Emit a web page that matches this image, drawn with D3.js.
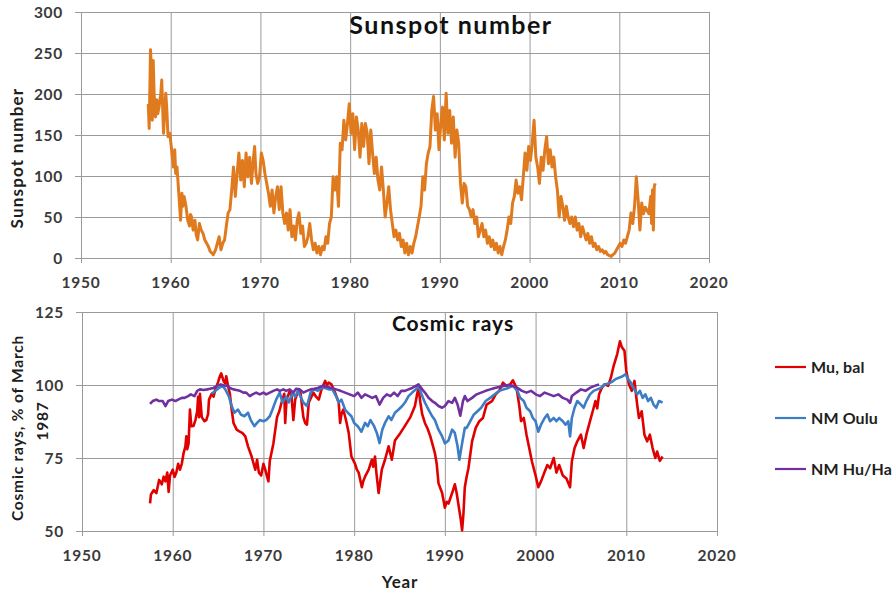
<!DOCTYPE html>
<html>
<head>
<meta charset="utf-8">
<script src="https://cdn.jsdelivr.net/npm/d3@7"></script>
<style>
  body { margin: 0; background: #fff; }
  text { font-family: Lato, "Open Sans", "DejaVu Sans", sans-serif; }
</style>
</head>
<body>
<svg id="chart" width="896" height="592"></svg>
<script>
// ---- data ------------------------------------------------------------
const xTicks = [1950, 1960, 1970, 1980, 1990, 2000, 2010, 2020];
const sunspotTicks = [0, 50, 100, 150, 200, 250, 300];
const cosmicTicks = [50, 75, 100, 125];

// Monthly sunspot number, [year, value]
const sunspot = [
  [1957.5,188],[1957.6,158],[1957.75,254],[1957.85,225],[1957.95,168],[1958.05,241],[1958.15,200],
  [1958.3,172],[1958.45,193],[1958.55,176],[1958.7,184],[1958.9,201],[1959.0,217],[1959.2,152],
  [1959.35,184],[1959.45,201],[1959.55,184],[1959.7,148],[1959.9,152],[1960.1,132],[1960.3,111],
  [1960.45,132],[1960.55,103],[1960.7,111],[1960.9,79],[1961.1,46],[1961.25,79],[1961.35,63],
  [1961.5,75],[1961.7,63],[1961.9,46],[1962.1,39],[1962.2,53],[1962.3,51],[1962.5,34],[1962.7,46],
  [1962.85,28],[1963.0,22],[1963.2,42],[1963.4,34],[1963.6,30],[1963.8,22],[1964.0,18],[1964.2,14],
  [1964.4,8],[1964.6,6],[1964.75,4],[1965.0,10],[1965.2,18],[1965.4,26],[1965.6,10],[1965.8,18],
  [1966.0,22],[1966.2,39],[1966.4,55],[1966.6,59],[1966.8,83],[1967.0,111],[1967.2,75],[1967.4,103],
  [1967.6,128],[1967.8,95],[1968.0,119],[1968.2,87],[1968.4,128],[1968.6,99],[1968.8,123],[1969.0,91],
  [1969.2,119],[1969.35,136],[1969.5,103],[1969.7,91],[1969.9,99],[1970.1,128],[1970.3,119],[1970.5,103],
  [1970.7,91],[1970.9,79],[1971.1,63],[1971.3,83],[1971.5,55],[1971.7,75],[1971.9,87],[1972.1,59],
  [1972.3,87],[1972.5,55],[1972.7,42],[1972.9,55],[1973.1,34],[1973.3,59],[1973.5,26],[1973.7,39],
  [1973.9,22],[1974.1,46],[1974.3,55],[1974.5,30],[1974.7,39],[1974.9,14],[1975.1,18],[1975.3,26],
  [1975.5,42],[1975.7,22],[1975.9,10],[1976.1,18],[1976.3,6],[1976.5,14],[1976.7,4],[1976.9,14],
  [1977.1,10],[1977.3,26],[1977.5,18],[1977.7,42],[1977.9,50],[1978.1,99],[1978.3,83],[1978.5,99],
  [1978.7,63],[1978.9,140],[1979.1,132],[1979.3,168],[1979.5,144],[1979.7,164],[1979.9,188],[1980.1,152],
  [1980.3,176],[1980.5,132],[1980.7,172],[1980.9,156],[1981.1,123],[1981.3,164],[1981.5,136],[1981.7,164],
  [1981.9,152],[1982.1,115],[1982.3,156],[1982.5,128],[1982.7,103],[1982.9,123],[1983.1,95],[1983.3,83],
  [1983.5,111],[1983.7,83],[1983.9,50],[1984.1,67],[1984.3,87],[1984.5,59],[1984.7,42],[1984.9,26],
  [1985.1,34],[1985.3,22],[1985.5,30],[1985.7,14],[1985.9,22],[1986.1,6],[1986.3,18],[1986.5,4],
  [1986.7,14],[1986.9,6],[1987.1,18],[1987.3,26],[1987.5,38],[1987.7,50],[1987.9,63],[1988.1,99],
  [1988.3,83],[1988.5,115],[1988.7,128],[1988.9,136],[1989.1,180],[1989.3,197],[1989.5,156],[1989.7,176],
  [1989.9,132],[1990.1,164],[1990.3,184],[1990.5,144],[1990.7,201],[1990.9,152],[1991.1,180],[1991.3,140],
  [1991.5,172],[1991.7,123],[1991.9,156],[1992.1,140],[1992.3,91],[1992.5,67],[1992.7,91],[1992.9,87],
  [1993.1,63],[1993.3,59],[1993.5,50],[1993.7,59],[1993.9,42],[1994.1,50],[1994.3,26],[1994.5,34],
  [1994.7,42],[1994.9,26],[1995.1,34],[1995.3,18],[1995.5,26],[1995.7,14],[1995.9,22],[1996.1,10],
  [1996.3,18],[1996.5,6],[1996.7,14],[1996.9,4],[1997.1,14],[1997.3,22],[1997.5,34],[1997.7,50],
  [1997.9,42],[1998.1,67],[1998.3,75],[1998.5,95],[1998.7,79],[1998.9,87],[1999.1,71],[1999.3,99],
  [1999.5,128],[1999.7,107],[1999.9,136],[2000.1,119],[2000.3,140],[2000.5,168],[2000.7,123],[2000.9,111],
  [2001.1,91],[2001.3,123],[2001.5,107],[2001.7,132],[2001.9,148],[2002.1,115],[2002.3,132],[2002.5,111],
  [2002.7,123],[2002.9,99],[2003.1,83],[2003.3,50],[2003.5,75],[2003.7,63],[2003.9,46],[2004.1,63],
  [2004.3,50],[2004.5,42],[2004.7,50],[2004.9,38],[2005.1,50],[2005.3,34],[2005.5,42],[2005.7,26],
  [2005.9,38],[2006.1,30],[2006.3,22],[2006.5,30],[2006.7,18],[2006.9,26],[2007.1,14],[2007.3,18],
  [2007.5,10],[2007.7,14],[2007.9,8],[2008.1,10],[2008.3,6],[2008.5,8],[2008.7,4],[2008.9,3],
  [2009.1,2],[2009.3,4],[2009.5,6],[2009.7,10],[2009.9,14],[2010.1,18],[2010.3,14],[2010.5,22],
  [2010.7,18],[2010.9,26],[2011.1,34],[2011.3,55],[2011.5,42],[2011.7,63],[2011.9,99],[2012.1,71],
  [2012.3,34],[2012.5,67],[2012.7,54],[2012.9,62],[2013.1,58],[2013.3,54],[2013.5,75],[2013.6,42],
  [2013.7,83],[2013.8,34],[2013.9,87],[2014.0,91]
];

// Cosmic ray intensity, % of March 1987, [year, value]
const muBal = [
  [1957.5,59.5],[1957.6,62.5],[1957.9,64],[1958.2,63],[1958.5,67.5],[1958.8,66],[1959.0,68.6],[1959.2,67],
  [1959.4,70],[1959.55,63.4],[1959.7,69],[1960.0,71],[1960.2,68.5],[1960.4,70],[1960.6,73],[1960.8,71],
  [1961.0,73],[1961.2,76.7],[1961.4,79],[1961.5,82.4],[1961.6,78],[1961.75,80],[1961.9,91.6],[1962.05,85.9],
  [1962.3,86],[1962.5,88],[1962.7,91],[1962.8,96],[1962.9,89],[1963.0,97],[1963.2,89],[1963.5,87.6],
  [1963.7,88],[1963.9,90],[1964.0,95],[1964.3,97],[1964.5,96],[1964.7,98.5],[1965.0,101],[1965.2,103],
  [1965.35,104],[1965.6,101.4],[1965.8,100.5],[1965.9,103],[1966.1,99.7],[1966.3,97],[1966.45,92.8],[1966.7,87],
  [1967.05,84.7],[1967.4,84],[1967.7,83.5],[1968.0,82.4],[1968.3,79],[1968.7,75.5],[1969.1,71],[1969.3,74.4],
  [1969.5,70],[1969.75,69],[1970.0,73],[1970.2,71],[1970.4,68.6],[1970.55,67],[1970.7,74],[1971.1,80],
  [1971.5,89],[1971.75,91],[1972.0,94],[1972.3,97],[1972.4,87],[1972.55,95],[1972.9,98],[1973.1,96],
  [1973.3,88],[1973.5,95],[1973.9,98.5],[1974.1,97],[1974.4,89],[1974.6,87],[1974.8,86.4],[1975.0,94],
  [1975.5,97.4],[1975.8,96],[1976.1,95],[1976.4,98.5],[1976.8,101.4],[1977.0,100],[1977.2,100.8],[1977.5,100.2],
  [1977.9,97.4],[1978.3,94],[1978.45,87],[1978.6,90],[1978.8,91.6],[1979.1,88],[1979.4,83.6],[1979.7,75.5],
  [1980.1,73],[1980.3,71],[1980.5,70],[1980.85,65],[1981.0,67],[1981.2,68.6],[1981.6,71],[1981.95,74.4],
  [1982.1,72],[1982.3,75.5],[1982.45,70],[1982.7,63],[1983.05,71],[1983.4,74.4],[1983.8,79],[1984.15,74.4],
  [1984.5,81],[1985.1,83.6],[1985.6,86],[1986.2,89],[1986.7,92.8],[1986.95,97],[1987.1,99],[1987.3,94],
  [1987.5,90],[1987.8,87],[1988.1,85],[1988.4,82.4],[1988.9,76.7],[1989.1,73],[1989.3,66.3],[1989.7,63],
  [1990.0,58],[1990.2,60],[1990.4,59.4],[1990.8,63],[1991.1,66],[1991.3,63],[1991.5,59],[1991.75,54],
  [1991.9,50.2],[1992.05,56],[1992.2,65],[1992.4,68.6],[1992.6,71.5],[1993.0,80.7],[1993.4,85.3],[1993.8,87.6],
  [1994.2,88.7],[1994.6,93.3],[1995.2,94.5],[1995.6,96.8],[1996.0,98],[1996.4,100.8],[1996.8,99.7],[1997.2,100.2],
  [1997.5,101.6],[1997.9,99],[1998.2,93],[1998.4,87.6],[1998.7,88.7],[1999.0,83],[1999.3,78.4],[1999.6,73.8],
  [2000.0,69],[2000.3,65],[2000.6,67],[2001.0,70.3],[2001.3,72.6],[2001.6,71.5],[2002.0,75],[2002.3,70],
  [2002.6,72.6],[2003.0,69],[2003.4,68],[2003.8,65],[2004.0,73.8],[2004.3,78.4],[2004.6,80.7],[2005.0,83],
  [2005.3,78.4],[2005.6,83],[2006.0,87.6],[2006.3,91],[2006.6,94.5],[2006.8,92],[2007.0,96.8],[2007.3,99],
  [2007.6,100.2],[2008.0,99.7],[2008.3,102.5],[2008.6,106.5],[2009.0,110.6],[2009.3,115],[2009.5,113],[2009.8,111.7],
  [2010.0,104.8],[2010.3,100.2],[2010.6,98],[2010.9,101.4],[2011.2,93.3],[2011.4,88.7],[2011.7,91],[2012.0,83],
  [2012.3,80.7],[2012.6,83],[2012.9,78.4],[2013.2,75],[2013.4,77.2],[2013.7,74],[2014.0,75.5]
];

const nmOulu = [
  [1964.3,97],[1964.7,98],[1965.1,99],[1965.5,99.7],[1965.8,98.5],[1966.2,96],[1966.5,92.8],[1966.8,90.5],
  [1967.2,91.6],[1967.5,89.9],[1967.9,89.3],[1968.3,90.5],[1968.6,88],[1969.0,85.9],[1969.3,87],[1969.6,88],
  [1970.0,87.6],[1970.3,88],[1970.7,89.3],[1971.0,91.6],[1971.4,95],[1971.8,97.4],[1972.1,94],[1972.5,96],
  [1972.8,94],[1973.2,97.4],[1973.5,96],[1973.8,98],[1974.1,96],[1974.4,94],[1974.8,92.8],[1975.2,97.4],
  [1975.6,98.5],[1976.0,98],[1976.4,99],[1976.8,99],[1977.2,98.5],[1977.6,98.5],[1978.0,96.2],[1978.3,94],
  [1978.6,95],[1979.0,91.6],[1979.3,90.5],[1979.7,89.3],[1980.0,87],[1980.4,85.9],[1980.8,84],[1981.2,87],
  [1981.5,85.9],[1981.8,88],[1982.2,85.9],[1982.5,83.6],[1982.8,80.1],[1983.1,84.7],[1983.4,87],[1983.8,89.3],
  [1984.1,88],[1984.5,90.5],[1984.9,91.6],[1985.3,92.8],[1985.6,94],[1986.0,96.2],[1986.4,97.4],[1986.8,98.5],
  [1987.1,99.7],[1987.5,96.2],[1987.8,94],[1988.2,91.6],[1988.6,89.3],[1988.9,88],[1989.3,84.7],[1989.7,82.4],
  [1990.0,80],[1990.4,81],[1990.8,84.7],[1991.1,83.6],[1991.4,79],[1991.6,74.4],[1991.9,80],[1992.2,85.3],
  [1992.4,85.3],[1992.8,87.6],[1993.2,89.9],[1993.6,91],[1994.0,92.2],[1994.5,94.5],[1995.0,95.6],[1995.5,96.8],
  [1996.0,98],[1996.5,98.5],[1997.0,99],[1997.5,99.7],[1998.0,98],[1998.3,95.6],[1998.7,94.5],[1999.0,92.2],
  [1999.4,91],[1999.7,88.7],[2000.0,87.6],[2000.3,84],[2000.6,86.4],[2001.0,88.7],[2001.3,89.9],[2001.6,87.6],
  [2002.0,88.7],[2002.3,87.6],[2002.6,88.7],[2003.0,87.6],[2003.3,86.4],[2003.6,87.6],[2003.8,82.4],[2004.0,88.7],
  [2004.3,92.2],[2004.6,94.5],[2005.0,93.3],[2005.3,92.2],[2005.6,94.5],[2006.0,96.8],[2006.4,98],[2006.8,98.5],
  [2007.2,99],[2007.6,100.2],[2008.0,100.5],[2008.4,101],[2008.8,102],[2009.2,102.5],[2009.6,103],[2009.9,103.7],
  [2010.2,102],[2010.5,100.8],[2010.8,99],[2011.2,96.8],[2011.5,98],[2011.8,95.6],[2012.1,96.8],[2012.4,94.5],
  [2012.7,95.6],[2013.0,93.3],[2013.3,92.2],[2013.6,94.5],[2014.0,94]
];

const nmHuHa = [
  [1957.5,93.5],[1957.8,94.5],[1958.2,95],[1958.5,94.5],[1958.9,94.5],[1959.2,92.8],[1959.5,94.5],[1959.9,95],
  [1960.3,94.5],[1960.6,95],[1961.0,95.6],[1961.3,95.6],[1961.7,96.2],[1962.0,96.8],[1962.4,96.2],[1962.7,98],
  [1963.0,98.5],[1963.4,98.3],[1963.8,98.5],[1964.1,98.7],[1964.5,99],[1964.9,99.7],[1965.3,100.2],[1965.6,99.9],
  [1966.0,99.7],[1966.3,99],[1966.7,98.5],[1967.0,98.3],[1967.4,98],[1967.8,97.4],[1968.1,97.4],[1968.5,96.2],
  [1968.8,96.8],[1969.2,97.4],[1969.6,96.8],[1970.0,97.4],[1970.3,96.8],[1970.7,97.4],[1971.1,98],[1971.5,98.5],
  [1971.8,98],[1972.2,98.5],[1972.5,98],[1972.9,98.5],[1973.3,97.4],[1973.6,98.7],[1974.0,98.5],[1974.4,97.4],
  [1974.8,98],[1975.2,98.5],[1975.6,98.7],[1976.0,99],[1976.5,99.7],[1977.0,99.4],[1977.5,99],[1978.0,98.5],
  [1978.5,98],[1979.0,97.4],[1979.5,96.8],[1980.0,96.2],[1980.4,97.4],[1980.8,95.6],[1981.2,96.8],[1981.6,96.2],
  [1982.0,95.6],[1982.4,96.2],[1982.8,93.3],[1983.2,95.6],[1983.6,96.8],[1984.0,96.2],[1984.4,97.4],[1984.8,96.2],
  [1985.2,98],[1985.6,98],[1986.0,98.5],[1986.4,99],[1986.8,99.7],[1987.1,100.2],[1987.5,98.5],[1987.8,97.4],
  [1988.2,95.6],[1988.6,94.5],[1988.9,93.9],[1989.3,92.8],[1989.7,92.2],[1990.0,92.8],[1990.4,94.5],[1990.8,93.9],
  [1991.1,95.6],[1991.4,93.3],[1991.7,89.5],[1992.0,94.5],[1992.2,96.2],[1992.5,94.5],[1993.0,95.6],[1993.5,96.8],
  [1994.0,97.4],[1994.5,98],[1995.0,98.5],[1995.5,99],[1996.0,99.3],[1996.5,99.7],[1997.0,100],[1997.5,99.7],
  [1998.0,99],[1998.5,98],[1999.0,97.4],[1999.5,98],[2000.0,96.8],[2000.5,96.2],[2001.0,97.4],[2001.5,96.8],
  [2002.0,96.2],[2002.5,96.8],[2003.0,95.6],[2003.5,95],[2003.8,93.9],[2004.0,96.2],[2004.5,97.4],[2005.0,98.5],
  [2005.5,98],[2006.0,99],[2006.5,99.7],[2007.0,100.2]
];

const cosmicSeries = [
  { name: "Mu, bal",  color: "#e00000", data: muBal },
  { name: "NM Oulu",  color: "#3c7dc6", data: nmOulu },
  { name: "NM Hu/Ha", color: "#7030a0", data: nmHuHa }
];

// ---- drawing ---------------------------------------------------------
const svg = d3.select("#chart");
const gridColor = "#9a9a9a";
const tickColor = "#3a3a3a";
const labelColor = "#1e1e1e";

function panel(cfg) {
  const x = d3.scaleLinear().domain([1950, 2020]).range(cfg.xRange);
  const y = d3.scaleLinear().domain(cfg.yDomain).range(cfg.yRange);
  const g = svg.append("g");

  // horizontal grid lines, extending a few px left of the axis as ticks
  g.append("g")
    .attr("transform", `translate(${cfg.xRange[0]},0)`)
    .call(d3.axisLeft(y).tickValues(cfg.yTicks)
      .tickSize(-(cfg.xRange[1] - cfg.xRange[0])).tickFormat(""))
    .call(a => a.select(".domain").remove())
    .call(a => a.selectAll("line").attr("stroke", gridColor).attr("x1", -6));

  // vertical grid lines, extending a few px below the base line
  g.append("g")
    .attr("transform", `translate(0,${cfg.yRange[0]})`)
    .call(d3.axisBottom(x).tickValues(xTicks)
      .tickSize(-(cfg.yRange[0] - cfg.yRange[1])).tickFormat(""))
    .call(a => a.select(".domain").remove())
    .call(a => a.selectAll("line").attr("stroke", gridColor).attr("y1", 5));

  // tick labels
  g.append("g").selectAll("text").data(cfg.yTicks).join("text")
    .attr("x", cfg.xRange[0] - 18).attr("y", d => y(d))
    .attr("dy", "0.36em").attr("text-anchor", "end")
    .attr("font-size", 15.5).attr("font-weight", 700).attr("fill", tickColor)
    .attr("letter-spacing", 0.7)
    .text(d => d);
  g.append("g").selectAll("text").data(xTicks).join("text")
    .attr("x", d => x(d)).attr("y", cfg.yRange[0] + 30)
    .attr("text-anchor", "middle")
    .attr("font-size", 15.5).attr("font-weight", 700).attr("fill", tickColor)
    .attr("letter-spacing", 0.7)
    .text(d => d);

  return { x, y, g };
}

// Sunspot panel
const sunPanel = panel({
  xRange: [81, 709], yRange: [258, 12], yDomain: [0, 300], yTicks: sunspotTicks
});
const sunLine = d3.line().x(d => sunPanel.x(d[0])).y(d => sunPanel.y(d[1]));
sunPanel.g.append("path").datum(sunspot)
  .attr("d", sunLine).attr("fill", "none")
  .attr("stroke", "#e07a1f").attr("stroke-width", 3)
  .attr("stroke-linejoin", "round");

svg.append("text").attr("x", 451).attr("y", 34).attr("text-anchor", "middle")
  .attr("font-size", 25).attr("font-weight", 700).attr("fill", "#111")
  .attr("letter-spacing", 1.5)
  .text("Sunspot number");
svg.append("text")
  .attr("transform", "translate(23,158) rotate(-90)")
  .attr("text-anchor", "middle")
  .attr("font-size", 17).attr("font-weight", 700).attr("fill", labelColor)
  .attr("letter-spacing", 1.2)
  .text("Sunspot number");

// Cosmic ray panel
const crPanel = panel({
  xRange: [82, 717], yRange: [531, 312], yDomain: [50, 125], yTicks: cosmicTicks
});
const crLine = d3.line().x(d => crPanel.x(d[0])).y(d => crPanel.y(d[1]));
crPanel.g.selectAll("path.series").data(cosmicSeries).join("path")
  .attr("class", "series")
  .attr("d", s => crLine(s.data)).attr("fill", "none")
  .attr("stroke", s => s.color).attr("stroke-width", 2.6)
  .attr("stroke-linejoin", "round");

svg.append("text").attr("x", 453).attr("y", 331).attr("text-anchor", "middle")
  .attr("font-size", 21).attr("font-weight", 700).attr("fill", "#111")
  .attr("letter-spacing", 1)
  .text("Cosmic  rays");
svg.append("text")
  .attr("transform", "translate(23,428) rotate(-90)")
  .attr("text-anchor", "middle")
  .attr("font-size", 15.5).attr("font-weight", 700).attr("fill", labelColor)
  .attr("letter-spacing", 0.8)
  .text("Cosmic rays, % of March");
svg.append("text")
  .attr("transform", "translate(48,421) rotate(-90)")
  .attr("text-anchor", "middle")
  .attr("font-size", 15.5).attr("font-weight", 700).attr("fill", labelColor)
  .attr("letter-spacing", 0.8)
  .text("1987");
svg.append("text").attr("x", 400).attr("y", 588).attr("text-anchor", "middle")
  .attr("font-size", 17).attr("font-weight", 700).attr("fill", labelColor)
  .attr("letter-spacing", 0.8)
  .text("Year");

// Legend
const legend = svg.append("g").selectAll("g").data(cosmicSeries).join("g")
  .attr("transform", (d, i) => `translate(775,${367 + i * 51})`);
legend.append("line").attr("x1", 0).attr("x2", 31)
  .attr("stroke", d => d.color).attr("stroke-width", 2.2);
legend.append("text").attr("x", 36).attr("dy", "0.36em")
  .attr("font-size", 16).attr("font-weight", 700).attr("fill", labelColor)
  .attr("letter-spacing", 0.1)
  .text(d => d.name);
</script>
</body>
</html>
